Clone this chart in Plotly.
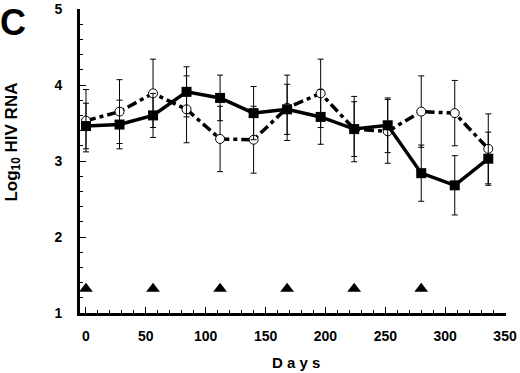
import plotly.graph_objects as go

days = [0, 28, 56, 84, 112, 140, 168, 196, 224, 252, 280, 308, 336]
solid_vals = [3.46, 3.48, 3.60, 3.91, 3.83, 3.63, 3.68, 3.58, 3.42, 3.47, 2.84, 2.68, 3.03]
solid_err = [0.30, 0.32, 0.29, 0.33, 0.30, 0.35, 0.33, 0.36, 0.43, 0.36, 0.37, 0.39, 0.35]
dashed_vals = [3.53, 3.65, 3.89, 3.68, 3.29, 3.28, 3.70, 3.89, 3.42, 3.39, 3.65, 3.63, 3.16]
dashed_err = [0.41, 0.42, 0.45, 0.44, 0.43, 0.44, 0.43, 0.45, 0.36, 0.42, 0.47, 0.43, 0.46]
triangle_days = [0, 56, 112, 168, 224, 280]
triangle_level = [1.32] * len(triangle_days)
x_ticks = [0, 50, 100, 150, 200, 250, 300, 350]
y_ticks = [1, 2, 3, 4, 5]

FONT = "Liberation Sans"

fig = go.Figure()

fig.add_trace(go.Scatter(
    x=days, y=dashed_vals, mode="lines+markers",
    line=dict(color="black", width=3.5, dash="10px,4px,4px,4px"),
    marker=dict(symbol="circle", size=9, color="white", line=dict(color="black", width=1)),
    error_y=dict(type="data", array=dashed_err, visible=True, color="black", thickness=1, width=3),
    showlegend=False,
))
fig.add_trace(go.Scatter(
    x=days, y=solid_vals, mode="lines+markers",
    line=dict(color="black", width=3.5),
    marker=dict(symbol="square", size=10, color="black"),
    error_y=dict(type="data", array=solid_err, visible=True, color="black", thickness=1, width=3),
    showlegend=False,
))
fig.add_trace(go.Scatter(
    x=triangle_days, y=triangle_level, mode="markers",
    marker=dict(symbol="triangle-up", size=12, color="black"),
    showlegend=False,
))

fig.add_annotation(
    text="<b>C</b>", xref="paper", yref="paper", x=-0.158, y=1.03,
    xanchor="center", yanchor="top", showarrow=False,
    font=dict(family=FONT, size=36, color="black"),
)
fig.add_annotation(
    text="<b>Log<sub>10</sub> HIV RNA</b>", xref="paper", yref="paper", x=-0.157, y=0.561,
    xanchor="center", yanchor="middle", showarrow=False, textangle=-90,
    font=dict(family=FONT, size=17, color="black"),
)
fig.add_annotation(
    text="<b>D a y s</b>", xref="paper", yref="paper", x=0.507, y=-0.164,
    xanchor="center", yanchor="middle", showarrow=False,
    font=dict(family=FONT, size=15, color="black"),
)

fig.update_layout(
    width=520, height=373,
    margin=dict(l=80, r=14, t=9, b=60),
    paper_bgcolor="white", plot_bgcolor="white",
    font=dict(family=FONT, color="black"),
    xaxis=dict(
        range=[-5, 350.8], tickvals=x_ticks, ticks="inside", ticklen=6, tickwidth=1.2,
        tickcolor="black", showline=True, linecolor="black", linewidth=3,
        showgrid=False, zeroline=False, automargin=False,
        minor=dict(dtick=10, tick0=0, ticks="inside", ticklen=3, tickwidth=1, tickcolor="black"),
        tickfont=dict(family=FONT, size=14, weight="bold"),
        ticklabelstandoff=8,
    ),
    yaxis=dict(
        range=[1, 5], tickvals=y_ticks, ticks="inside", ticklen=6, tickwidth=1.2,
        tickcolor="black", showline=True, linecolor="black", linewidth=3,
        showgrid=False, zeroline=False, automargin=False,
        minor=dict(dtick=0.2, tick0=1, ticks="inside", ticklen=3, tickwidth=1, tickcolor="black"),
        tickfont=dict(family=FONT, size=14, weight="bold"),
        ticklabelstandoff=12,
    ),
)

fig.write_html(
    "out.html",
    config={"displayModeBar": False},
    post_script="document.body.style.margin='0';document.body.style.padding='0';",
)
